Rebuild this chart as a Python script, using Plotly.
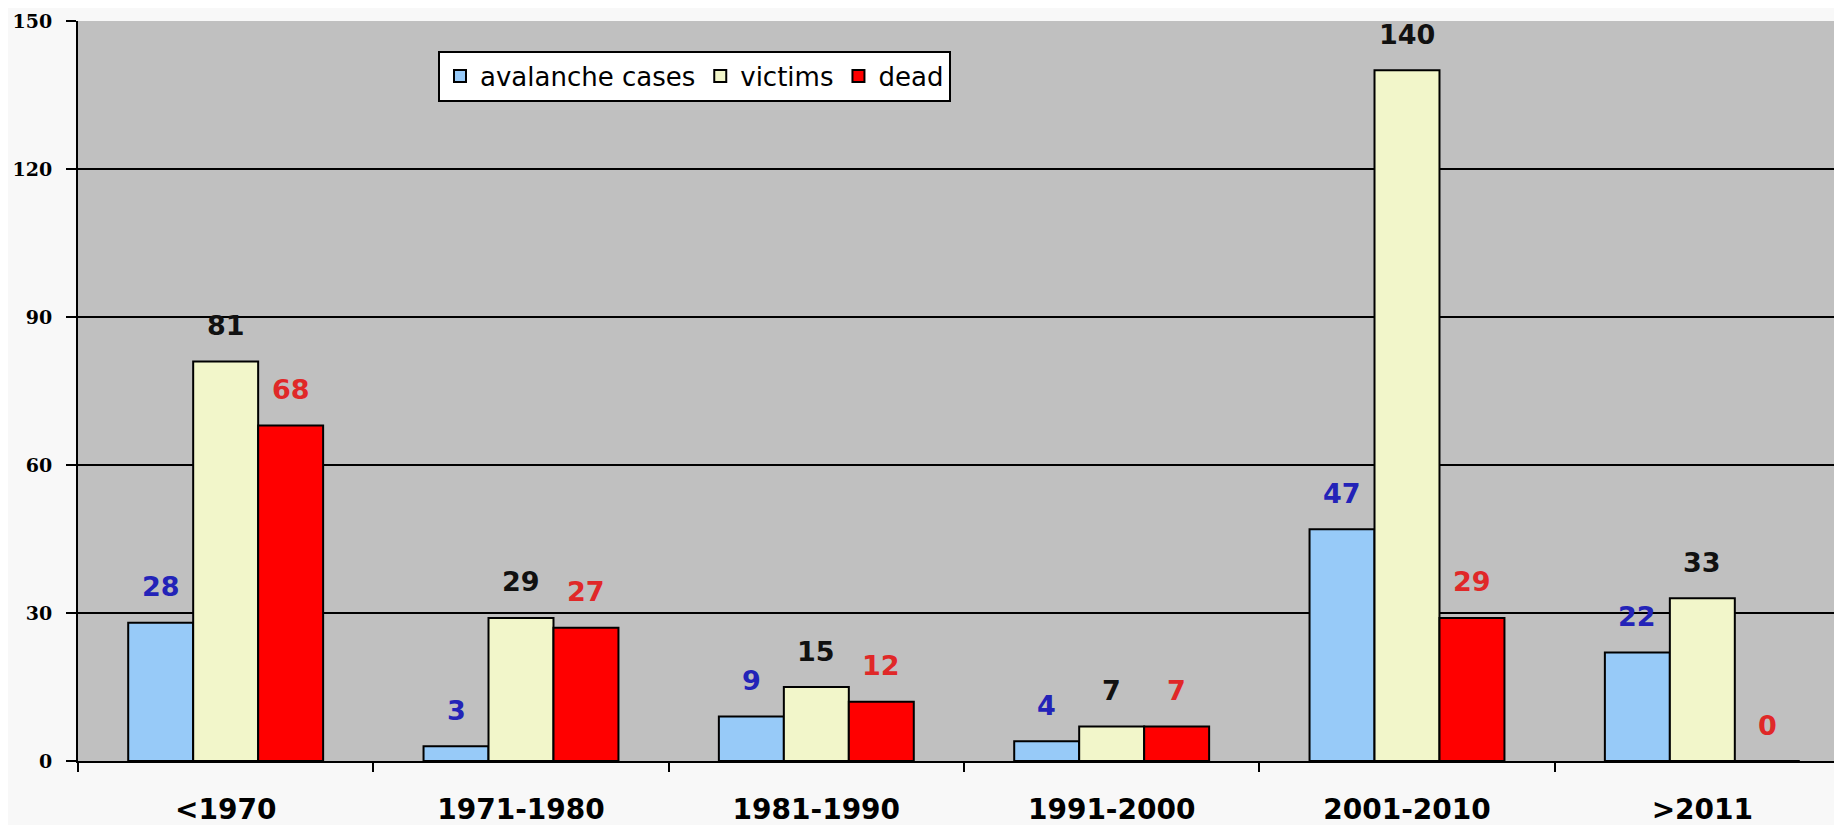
import plotly.graph_objects as go

categories = ["<1970", "1971-1980", "1981-1990", "1991-2000", "2001-2010", ">2011"]
avalanche_cases = [28, 3, 9, 4, 47, 22]
victims = [81, 29, 15, 7, 140, 33]
dead = [68, 27, 12, 7, 29, 0]
y_ticks = [0, 30, 60, 90, 120, 150]

series = [
    ("avalanche cases", avalanche_cases, "#97CAF8", "#2323B8"),
    ("victims", victims, "#F2F6CA", "#111111"),
    ("dead", dead, "#FF0000", "#E02828"),
]

W, H = 1842, 825
ml, mr, mt, mb = 70, 0, 13, 72
plot_w = W - ml - mr
plot_h = H - mt - mb
cat_w = plot_w / len(categories)
bargap = 0.34
bar_px = cat_w * (1 - bargap) / 3

fig = go.Figure()
annotations = []
for i, (name, vals, color, lcolor) in enumerate(series):
    fig.add_trace(go.Bar(
        name=name, x=categories, y=vals,
        marker=dict(color=color, line=dict(color="#000000", width=2)),
    ))
    for c, v in zip(categories, vals):
        annotations.append(dict(
            x=c, y=v, xref="x", yref="y", text=str(v), showarrow=False,
            xshift=(i - 1) * bar_px, yshift=36, yanchor="middle",
            font=dict(family="DejaVu Sans", size=27, color=lcolor, weight="bold"),
        ))

fig.update_layout(
    width=W, height=H,
    margin=dict(l=ml, r=mr, t=mt, b=mb, autoexpand=False),
    paper_bgcolor="#F8F8F8",
    plot_bgcolor="#C0C0C0",
    barmode="group", bargap=bargap, bargroupgap=0,
    annotations=annotations,
    showlegend=True,
    legend=dict(
        orientation="h", x=(430 - ml) / plot_w, y=1 - (42.5 - mt) / plot_h,
        xanchor="left", yanchor="top",
        bgcolor="#FFFFFF", bordercolor="#000000", borderwidth=2,
        font=dict(family="DejaVu Sans", size=26, color="#000000"),
        itemwidth=30, tracegroupgap=0,
    ),
    xaxis=dict(
        showgrid=False, showline=True, linecolor="#000000", linewidth=2,
        ticks="outside", tickson="boundaries", ticklen=9, tickcolor="#000000", tickwidth=2,
        ticklabelstandoff=22,
        tickfont=dict(family="DejaVu Sans", size=28, color="#000000", weight="bold"),
        fixedrange=True,
    ),
    yaxis=dict(
        range=[0, 150], tickvals=y_ticks, ticktext=[str(t) for t in y_ticks],
        showgrid=True, gridcolor="#000000", gridwidth=1.5,
        showline=True, linecolor="#000000", linewidth=2,
        ticks="outside", ticklen=10, tickcolor="#000000", tickwidth=2,
        ticklabelstandoff=10,
        tickfont=dict(family="DejaVu Serif", size=19, color="#000000", weight="bold"),
        zeroline=False, fixedrange=True,
    ),
)

fig.write_html("out.html")
